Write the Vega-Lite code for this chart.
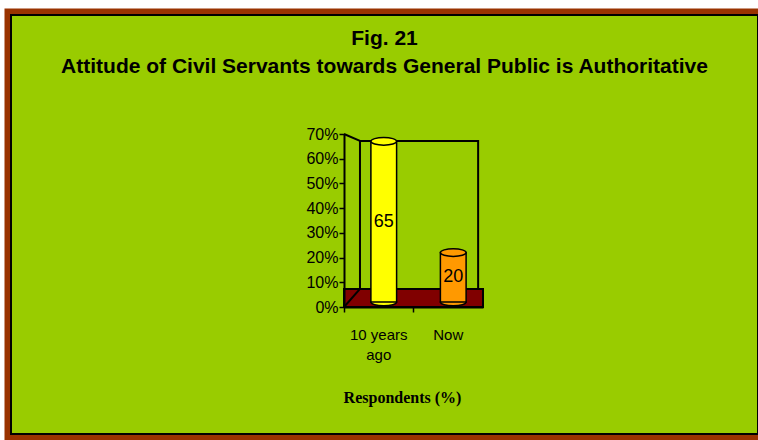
{
  "$schema": "https://vega.github.io/schema/vega-lite/v6.json",
  "width": 747,
  "height": 419,
  "autosize": "none",
  "padding": {"left": 11, "top": 15, "right": 0, "bottom": 6},
  "background": "white",
  "config": {"view": {"stroke": null}, "font": "Liberation Sans"},
  "title": {
    "text": ["Fig. 21", "Attitude of Civil Servants towards General Public is Authoritative"],
    "anchor": "middle",
    "frame": "group",
    "font": "Liberation Sans",
    "fontSize": 21,
    "fontWeight": "bold",
    "color": "black",
    "lineHeight": 28,
    "baseline": "top",
    "offset": 0,
    "dx": 0,
    "dy": 68
  },
  "data": {"values": [
    {"period": "10 years ago", "percent": 65},
    {"period": "Now", "percent": 20}
  ]},
  "layer": [
    {
      "layer": [
        {
          "data": {"values": [{}]},
          "mark": {"type": "rect", "fillOpacity": 0, "stroke": "#993300", "strokeWidth": 13},
          "encoding": {}
        },
        {
          "data": {"values": [{}]},
          "mark": {"type": "rect", "fill": "#99CC00", "stroke": "black", "strokeWidth": 2},
          "encoding": {}
        },
        {
          "data": {"values": [{}]},
          "mark": {"type": "rect", "fillOpacity": 0, "stroke": "black", "strokeWidth": 2},
          "encoding": {
            "x": {"datum": "10 years ago", "type": "nominal", "bandPosition": 0.23},
            "x2": {"datum": "Now", "bandPosition": 0.93},
            "y": {"datum": 7.3, "type": "quantitative"},
            "y2": {"datum": 67.2}
          }
        },
        {
          "data": {"values": [{}]},
          "mark": {"type": "rect", "fill": "#800000", "stroke": "black", "strokeWidth": 2},
          "encoding": {
            "x": {"datum": "10 years ago", "type": "nominal", "bandPosition": 0},
            "x2": {"datum": "Now", "bandPosition": 1},
            "y": {"datum": 0, "type": "quantitative"},
            "y2": {"datum": 7.3}
          }
        },
        {
          "data": {"values": [{}]},
          "mark": {"type": "rule", "stroke": "black", "strokeWidth": 2},
          "encoding": {
            "x": {"datum": "10 years ago", "type": "nominal", "bandPosition": 0},
            "x2": {"datum": "10 years ago", "bandPosition": 0.23},
            "y": {"datum": 70, "type": "quantitative"},
            "y2": {"datum": 67.2}
          }
        },
        {
          "data": {"values": [{}]},
          "mark": {"type": "rule", "stroke": "black", "strokeWidth": 2},
          "encoding": {
            "x": {"datum": "10 years ago", "type": "nominal", "bandPosition": 0},
            "x2": {"datum": "10 years ago", "bandPosition": 0.23},
            "y": {"datum": 0, "type": "quantitative"},
            "y2": {"datum": 7.3}
          }
        },
        {
          "mark": {
            "type": "point", "filled": true, "opacity": 1,
            "shape": "M-1,0A1,0.3,0,1,1,1,0A1,0.3,0,1,1,-1,0Z",
            "size": 661, "stroke": "black", "strokeWidth": 1.5,
            "xOffset": 5, "yOffset": -5
          },
          "encoding": {
            "x": {"field": "period", "type": "nominal"},
            "y": {"datum": 0, "type": "quantitative"},
            "fill": {"field": "period", "type": "nominal", "scale": {"domain": ["10 years ago", "Now"], "range": ["#FFFF00", "#FF9900"]}, "legend": null}
          }
        },
        {
          "mark": {"type": "bar", "width": {"band": 0.37}, "stroke": "black", "strokeWidth": 1.5, "xOffset": 5, "yOffset": -5},
          "encoding": {
            "x": {
              "field": "period", "type": "nominal", "sort": null,
              "scale": {"type": "band", "domain": ["10 years ago", "Now"], "range": [333, 472], "paddingInner": 0, "paddingOuter": 0},
              "axis": {
                "orient": "bottom", "offset": -127, "bandPosition": 0, "labelOffset": 0, "zindex": 1,
                "labelFlush": false, "labelAlign": "center",
                "labelAngle": 0, "labelFont": "Liberation Sans", "labelFontSize": 15, "labelColor": "black",
                "labelExpr": "datum.label == '10 years ago' ? ['10 years', 'ago'] : datum.label",
                "labelLineHeight": 20, "labelPadding": 22,
                "domainColor": "black", "domainWidth": 2, "tickColor": "black", "tickWidth": 1.5, "tickSize": 5,
                "title": "Respondents (%)", "titleFont": "Liberation Serif", "titleFontSize": 16, "titleFontWeight": "bold",
                "titleColor": "black", "titleX": 391, "titleY": 90, "titleAlign": "center", "titleBaseline": "middle"
              }
            },
            "y": {
              "field": "percent", "type": "quantitative",
              "scale": {"domain": [0, 70], "range": [292, 119], "nice": false, "zero": false},
              "axis": {
                "orient": "left", "offset": -333, "values": [0, 10, 20, 30, 40, 50, 60, 70], "zindex": 1,
                "labelExpr": "datum.value + '%'", "labelFont": "Liberation Sans", "labelFontSize": 16, "labelColor": "black",
                "labelPadding": 1, "grid": false,
                "domainColor": "black", "domainWidth": 2, "tickColor": "black", "tickWidth": 1.5, "tickSize": 5,
                "title": null
              }
            },
            "fill": {"field": "period", "type": "nominal", "legend": null}
          }
        },
        {
          "mark": {
            "type": "point", "filled": true, "opacity": 1,
            "shape": "M-1,0A1,0.3,0,1,1,1,0A1,0.3,0,1,1,-1,0Z",
            "size": 661, "stroke": "black", "strokeWidth": 1.5,
            "xOffset": 5, "yOffset": -5
          },
          "encoding": {
            "x": {"field": "period", "type": "nominal"},
            "y": {"field": "percent", "type": "quantitative"},
            "fill": {"field": "period", "type": "nominal", "legend": null}
          }
        }
      ]
    },
    {
      "mark": {"type": "text", "font": "Liberation Sans", "fontSize": 18, "color": "black", "xOffset": 5, "yOffset": -5},
      "encoding": {
        "x": {"field": "period", "type": "nominal"},
        "y": {"field": "percent", "type": "quantitative", "scale": {"domain": [0, 140], "range": [292, 119], "nice": false}, "axis": null},
        "text": {"field": "percent", "type": "quantitative"}
      }
    }
  ],
  "resolve": {"scale": {"y": "independent"}}
}
